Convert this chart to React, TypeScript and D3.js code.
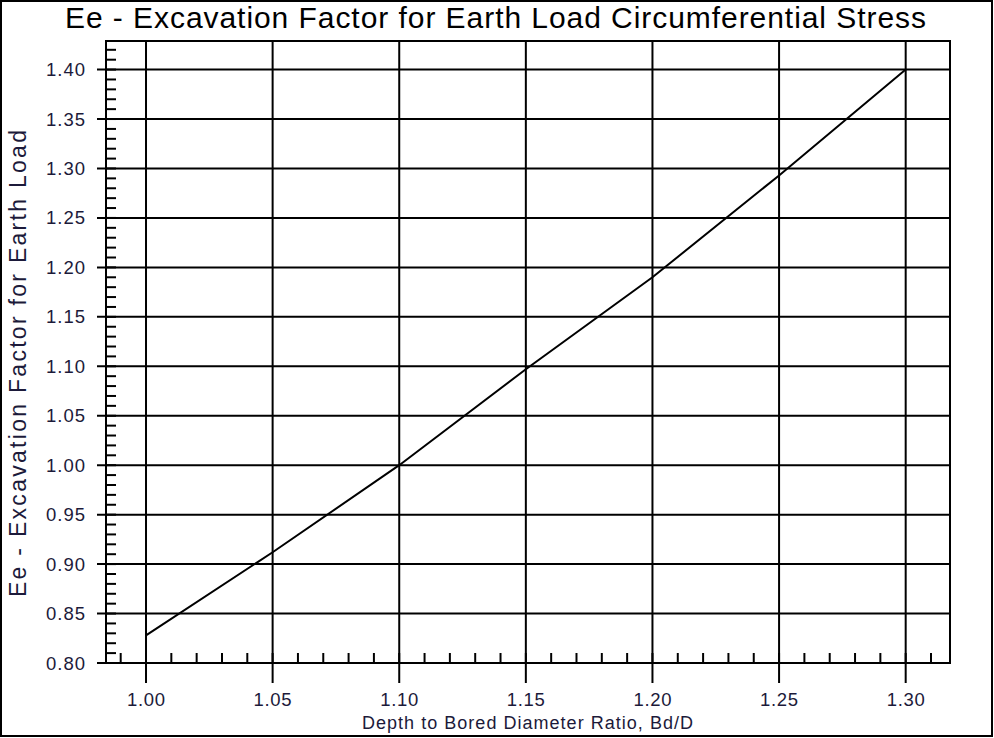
import { useEffect, useRef } from 'react';
import * as d3 from 'd3';

// Depth to bored diameter ratio (x) and excavation factor (y)
const ratios = [1.0, 1.05, 1.1, 1.15, 1.2, 1.25, 1.3];
const factors = [0.828, 0.912, 1.0, 1.097, 1.19, 1.293, 1.4];

const xTicks = [1.0, 1.05, 1.1, 1.15, 1.2, 1.25, 1.3];
const yTicks = [0.8, 0.85, 0.9, 0.95, 1.0, 1.05, 1.1, 1.15, 1.2, 1.25, 1.3, 1.35, 1.4];

const title = 'Ee - Excavation Factor for Earth Load Circumferential Stress';
const xTitle = 'Depth to Bored Diameter Ratio, Bd/D';
const yTitle = 'Ee - Excavation Factor for Earth Load';

const width = 994;
const height = 738;
const plot = { left: 106, right: 950, top: 41, bottom: 663 };
const font = '"Liberation Sans", Arial, sans-serif';

const App = () => {
    const svgRef = useRef<SVGSVGElement>(null);

    useEffect(() => {
        const svg = d3.select(svgRef.current);
        svg.selectAll('*').remove();

        const x = d3.scaleLinear().domain([0.9842, 1.3175]).range([plot.left, plot.right]);
        const y = d3.scaleLinear().domain([0.8, 1.4289]).range([plot.bottom, plot.top]);

        // page frame
        svg.append('rect')
            .attr('x', 1).attr('y', 1)
            .attr('width', width - 3).attr('height', height - 3)
            .attr('fill', '#fff').attr('stroke', '#000').attr('stroke-width', 2);

        // title (the original renders wider than our font, so stretch the spacing a bit)
        svg.append('text')
            .attr('x', 65).attr('y', 28)
            .attr('textLength', 861).attr('lengthAdjust', 'spacing')
            .style('font-family', font).style('font-size', '30px')
            .attr('fill', '#000')
            .text(title);

        // minor ticks (every 0.01, inside the frame)
        const xMinor = d3.range(99, 132).map(d => d / 100);
        const yMinor = d3.range(81, 143).map(d => d / 100);
        svg.append('g').selectAll('line').data(xMinor).join('line')
            .attr('x1', d => x(d)).attr('x2', d => x(d))
            .attr('y1', plot.bottom).attr('y2', plot.bottom - 10)
            .attr('stroke', '#000').attr('stroke-width', 2);
        svg.append('g').selectAll('line').data(yMinor).join('line')
            .attr('x1', plot.left).attr('x2', plot.left + 10)
            .attr('y1', d => y(d)).attr('y2', d => y(d))
            .attr('stroke', '#000').attr('stroke-width', 2);

        // grid with major ticks reaching outside
        svg.append('g').selectAll('line').data(xTicks).join('line')
            .attr('x1', d => x(d)).attr('x2', d => x(d))
            .attr('y1', plot.top).attr('y2', plot.bottom + 20)
            .attr('stroke', '#000').attr('stroke-width', 2);
        svg.append('g').selectAll('line').data(yTicks).join('line')
            .attr('x1', plot.left - 9).attr('x2', plot.right)
            .attr('y1', d => y(d)).attr('y2', d => y(d))
            .attr('stroke', '#000').attr('stroke-width', 2);

        // plot frame
        svg.append('rect')
            .attr('x', plot.left).attr('y', plot.top)
            .attr('width', plot.right - plot.left).attr('height', plot.bottom - plot.top)
            .attr('fill', 'none').attr('stroke', '#000').attr('stroke-width', 2);

        // tick labels
        svg.append('g').selectAll('text').data(xTicks).join('text')
            .attr('x', d => x(d) - 19).attr('y', 706)
            .attr('textLength', 38).attr('lengthAdjust', 'spacing')
            .style('font-family', font).style('font-size', '18.5px')
            .attr('fill', '#1c1a3a')
            .text(d => d.toFixed(2));
        svg.append('g').selectAll('text').data(yTicks).join('text')
            .attr('x', 46).attr('y', d => y(d) + 6.5)
            .attr('textLength', 39).attr('lengthAdjust', 'spacing')
            .style('font-family', font).style('font-size', '18.5px')
            .attr('fill', '#1c1a3a')
            .text(d => d.toFixed(2));

        // axis titles
        svg.append('text')
            .attr('x', 362).attr('y', 729)
            .attr('textLength', 331).attr('lengthAdjust', 'spacing')
            .style('font-family', font).style('font-size', '18px')
            .attr('fill', '#1c1a3a')
            .text(xTitle);
        svg.append('text')
            .attr('transform', 'translate(26,597) rotate(-90)')
            .attr('textLength', 467).attr('lengthAdjust', 'spacing')
            .style('font-family', font).style('font-size', '23px')
            .attr('fill', '#1c1a3a')
            .text(yTitle);

        // data line
        const line = d3.line<number>()
            .x((_, i) => x(ratios[i]))
            .y(d => y(d));
        svg.append('path')
            .attr('d', line(factors) ?? '')
            .attr('fill', 'none').attr('stroke', '#000').attr('stroke-width', 2);
    }, []);

    return (
        <svg
            ref={svgRef}
            width={width}
            height={height}
            style={{ position: 'absolute', left: 0, top: 0, display: 'block' }}
        ></svg>
    );
};

export default App;
